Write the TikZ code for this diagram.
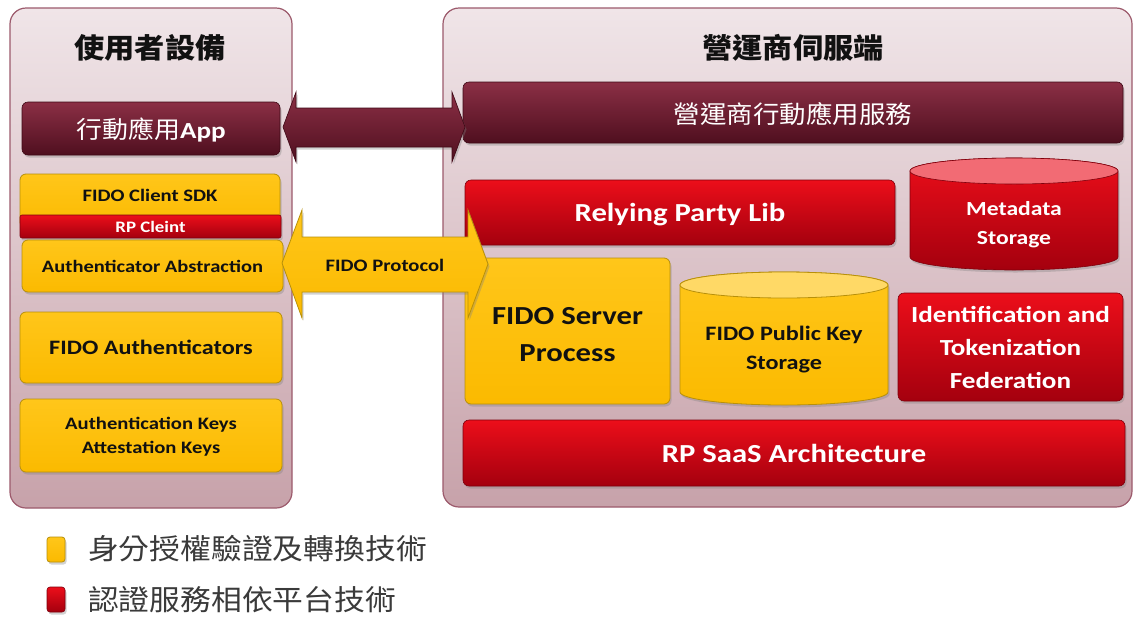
\documentclass[tikz,border=0pt]{standalone}
\usepackage{fontspec}
\setmainfont{Carlito}[FakeStretch=1.18]
\newfontfamily\cjk{Noto Sans CJK TC}[FakeStretch=1.08]
\usetikzlibrary{shadows}

\definecolor{panelTop}{HTML}{F0E5E8}
\definecolor{panelBot}{HTML}{C7A2AA}
\definecolor{panelEdge}{HTML}{9C5A6C}
\definecolor{goldTop}{HTML}{FFC61A}
\definecolor{goldBot}{HTML}{FBBA00}
\definecolor{goldEdge}{HTML}{B8900A}
\definecolor{goldCap}{HTML}{FFD966}
\definecolor{redTop}{HTML}{EC0E1A}
\definecolor{redBot}{HTML}{A4000E}
\definecolor{redEdge}{HTML}{7E000C}
\definecolor{redCap}{HTML}{F26B74}
\definecolor{marTop}{HTML}{8B2F45}
\definecolor{marBot}{HTML}{4F0F1F}
\definecolor{marEdge}{HTML}{3E0815}
\definecolor{ink}{HTML}{111111}
\definecolor{legendInk}{HTML}{3A3A3A}

\begin{document}
\begin{tikzpicture}[x=1pt,y=-1pt,
  panel/.style={draw=panelEdge, line width=1.2pt, rounded corners=16pt,
    top color=panelTop, bottom color=panelBot},
  paneltitle/.style={font=\cjk\bfseries\fontsize{28}{30}\selectfont, text=ink},
  box/.style={rounded corners=6pt, inner sep=0pt, align=center, text depth=0pt,
    drop shadow={shadow xshift=1.5pt, shadow yshift=-2.5pt, opacity=0.35}},
  goldbox/.style={box, draw=goldEdge, line width=0.8pt,
    top color=goldTop, bottom color=goldBot, text=ink},
  redbox/.style={box, draw=redEdge, line width=0.6pt,
    top color=redTop, bottom color=redBot, text=white},
  marbox/.style={box, draw=marEdge, line width=0.6pt,
    top color=marTop, bottom color=marBot, text=white},
  shade/.style={drop shadow={shadow xshift=1.5pt, shadow yshift=-2.5pt, opacity=0.35}},
  lbl/.style={inner sep=0pt, align=center, text depth=0pt,
    font=\bfseries\fontsize{#1}{#1}\selectfont},
  legendtext/.style={anchor=west, inner sep=0pt, text=legendInk,
    font=\cjk\fontsize{28.5}{30}\selectfont}
]
\useasboundingbox[fill=white] (0,0) rectangle (1137,619);

% ---- two panels ----
\path[panel] (10,8) rectangle (292,508);
\path[panel] (443,8) rectangle (1132,507);
\node[paneltitle] (devtitle) at (150,48) {使用者設備};
\node[paneltitle] (srvtitle) at (793,48) {營運商伺服端};

% ---- user device stack ----
\node[marbox, minimum width=258pt, minimum height=53pt,
  font=\cjk\fontsize{24}{26}\selectfont] (app) at (151,128.5)
  {行動應用{\rmfamily\bfseries\fontsize{23}{26}\selectfont App}};
\node[goldbox, minimum width=260pt, minimum height=54pt] (sdk) at (150,201) {};
\node[lbl=17.5, text=ink] (sdklabel) at (150,195) {FIDO Client SDK};
\node[redbox, rounded corners=2pt, minimum width=261pt, minimum height=23pt,
  font=\bfseries\fontsize{16}{16}\selectfont] (rpc) at (150.5,226.5) {RP Cleint};
\node[goldbox, minimum width=261pt, minimum height=52pt,
  font=\bfseries\fontsize{17.4}{18}\selectfont] (abs) at (152.5,266)
  {Authenticator Abstraction};
\node[goldbox, minimum width=262pt, minimum height=71pt,
  font=\bfseries\fontsize{20.5}{22}\selectfont] (auth) at (151,347.5)
  {FIDO Authenticators};
\node[goldbox, minimum width=262pt, minimum height=73pt,
  font=\bfseries\fontsize{17.5}{24}\selectfont] (keys) at (151,435.5)
  {Authentication Keys\\Attestation Keys};

% ---- server side ----
\node[marbox, minimum width=660pt, minimum height=61pt,
  font=\cjk\fontsize{24.5}{26}\selectfont] (svc) at (793,112.5) {營運商行動應用服務};
\node[redbox, minimum width=430pt, minimum height=65pt,
  font=\bfseries\fontsize{26}{28}\selectfont] (rplib) at (680,212.5)
  {Relying Party Lib};

% metadata cylinder
\path[shade, top color=redTop, bottom color=redBot, draw=redEdge, line width=0.6pt]
  (910,171) -- (910,257)
  arc[start angle=180, end angle=360, x radius=104pt, y radius=13pt]
  -- (1118,171)
  arc[start angle=0, end angle=180, x radius=104pt, y radius=13pt] -- cycle;
\path[fill=redCap, draw=redEdge, line width=0.6pt]
  (1014,171) ellipse[x radius=104pt, y radius=13pt];
\node[text=white, align=center, inner sep=0pt, text depth=0pt,
  font=\bfseries\fontsize{20}{29}\selectfont] (meta) at (1014,222.5)
  {Metadata\\Storage};

\node[goldbox, minimum width=205pt, minimum height=146pt] (fsp) at (567.5,331) {};
\node[lbl=26, text=ink, font=\bfseries\fontsize{26}{37}\selectfont] (fsplabel)
  at (567.5,334) {FIDO Server\\Process};

% public key cylinder
\path[shade, top color=goldTop, bottom color=goldBot, draw=goldEdge, line width=0.8pt]
  (680,285) -- (680,392)
  arc[start angle=180, end angle=360, x radius=104pt, y radius=13pt]
  -- (888,285)
  arc[start angle=0, end angle=180, x radius=104pt, y radius=13pt] -- cycle;
\path[fill=goldCap, draw=goldEdge, line width=0.8pt]
  (784,285) ellipse[x radius=104pt, y radius=13pt];
\node[text=ink, align=center, inner sep=0pt, text depth=0pt,
  font=\bfseries\fontsize{20.5}{29}\selectfont] (pks) at (784,347.5)
  {FIDO Public Key\\Storage};

\node[redbox, minimum width=225pt, minimum height=108pt,
  font=\bfseries\fontsize{23}{33}\selectfont] (idf) at (1010.5,347)
  {Identification and\\Tokenization\\Federation};
\node[redbox, minimum width=662pt, minimum height=66pt,
  font=\bfseries\fontsize{26}{28}\selectfont] (saas) at (794,453)
  {RP SaaS Architecture};

% ---- block arrows between the two sides ----
\path[shade, draw=marEdge, line width=0.6pt, top color=marTop, bottom color=marBot]
  (283,127) -- (296,92) -- (296,108) -- (452,108) -- (452,92) -- (465,127)
  -- (452,162) -- (452,147) -- (296,147) -- (296,162) -- cycle;
\path[shade, draw=goldEdge, line width=0.8pt, top color=goldTop, bottom color=goldBot]
  (282,263) -- (302,210) -- (302,237) -- (468,237) -- (468,210) -- (488,264)
  -- (468,318) -- (468,292) -- (302,292) -- (302,318) -- cycle;
\node[lbl=17.5, text=ink] (proto) at (385,265) {FIDO Protocol};

% ---- legend ----
\node[goldbox, rounded corners=3pt, minimum width=18pt, minimum height=25pt] (keygold) at (56,549.5) {};
\node[legendtext] (keygoldtext) at (88,549) {身分授權驗證及轉換技術};
\node[redbox, rounded corners=3pt, minimum width=18pt, minimum height=25pt] (keyred) at (56,599.5) {};
\node[legendtext] (keyredtext) at (88,600) {認證服務相依平台技術};
\end{tikzpicture}
\end{document}
